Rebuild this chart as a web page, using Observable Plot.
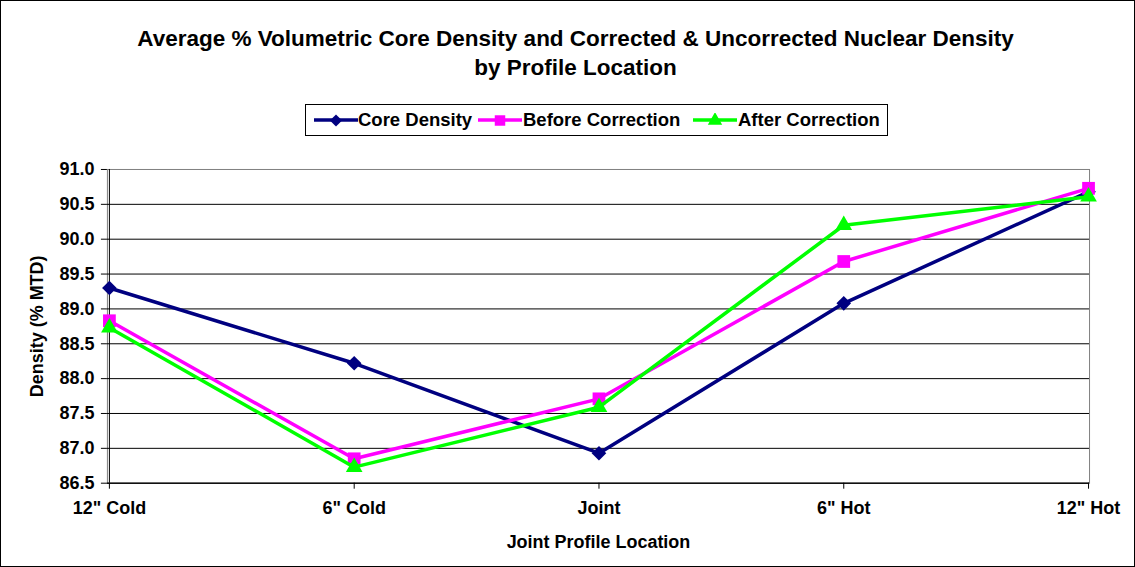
<!DOCTYPE html>
<html>
<head>
<meta charset="utf-8">
<script src="https://cdn.jsdelivr.net/npm/d3@7"></script>
<script src="https://cdn.jsdelivr.net/npm/@observablehq/plot@0.6"></script>
<style>
  html, body { margin: 0; padding: 0; background: white; }
  #chart { position: relative; width: 1135px; height: 567px; box-sizing: border-box; border: 1px solid black; background: white; overflow: hidden;
           font-family: "Liberation Sans", Arial, sans-serif; font-weight: bold; color: black; }
  #title { position: absolute; left: 7px; top: 23px; width: 1135px; text-align: center; font-size: 22.5px; line-height: 29px; white-space: nowrap; }
  #legend { position: absolute; left: 304px; top: 103px; width: 581px; height: 30px; border: 1px solid black; font-size: 18.5px; }
  #legend .sw { position: absolute; top: 8px; }
  #legend .lt { position: absolute; top: 4px; white-space: nowrap; line-height: 22px; }
  #plot { position: absolute; left: -1px; top: 144px; }
</style>
</head>
<body>
<div id="chart">
  <div id="title">Average % Volumetric Core Density and Corrected &amp; Uncorrected Nuclear Density<br>by Profile Location</div>
  <div id="legend"></div>
  <div id="plot"></div>
</div>
<script>
const categories = ['12" Cold', '6" Cold', 'Joint', '6" Hot', '12" Hot'];
const seriesNames = ["Core Density", "Before Correction", "After Correction"];
const coreDensity = [89.30, 88.22, 86.93, 89.08, 90.68];
const beforeCorrection = [88.83, 86.85, 87.71, 89.68, 90.73];
const afterCorrection = [88.73, 86.73, 87.59, 90.20, 90.61];
const yTicks = [86.5, 87.0, 87.5, 88.0, 88.5, 89.0, 89.5, 90.0, 90.5, 91.0];
const colors = ["#000080", "#FF00FF", "#00FF00"];
const symbols = ["diamond2", "square", "triangle"];
const markerR = [6.6, 7.2, 6.2];

const values = [coreDensity, beforeCorrection, afterCorrection];
const seriesData = seriesNames.map((s, i) => categories.map((c, j) => ({series: s, category: c, value: values[i][j]})));

const seriesMarks = [];
seriesData.forEach((d, i) => {
  seriesMarks.push(Plot.line(d, { x: "category", y: "value", stroke: colors[i], strokeWidth: 3.5 }));
  seriesMarks.push(Plot.dot(d, { x: "category", y: "value", fill: colors[i], symbol: symbols[i], r: markerR[i], stroke: "none" }));
});

const W = 1135, H = 423;
const chart = Plot.plot({
  width: W,
  height: H,
  marginLeft: 107,
  marginRight: 45,
  marginTop: 24,
  marginBottom: 85,
  style: { fontFamily: '"Liberation Sans", Arial, sans-serif', fontSize: "18px", fontWeight: "bold", color: "black", background: "transparent", overflow: "visible" },
  x: { type: "point", domain: categories, padding: 0, label: null },
  y: { domain: [86.5, 91.0], label: null },
  marks: [
    Plot.frame({ stroke: "#808080" }),
    Plot.gridY(yTicks.filter(d => d < 91), { stroke: "black", strokeOpacity: 1, strokeWidth: 1 }),
    Plot.ruleY([86.5], { stroke: "black" }),
    Plot.ruleX([categories[0]], { stroke: "black" }),
    Plot.axisY(yTicks, { tickFormat: d => d.toFixed(1), tickSize: 6, tickPadding: 7, fontSize: 18, fontWeight: "bold", label: null }),
    Plot.axisX({ tickSize: 6, tickPadding: 12, fontSize: 18, fontWeight: "bold", label: null }),
    ...seriesMarks,
    Plot.text(["Density (% MTD)"], { frameAnchor: "left", rotate: -90, dx: -70, fontSize: 18, fontWeight: "bold", textAnchor: "middle" }),
    Plot.text(["Joint Profile Location"], { frameAnchor: "bottom", lineAnchor: "middle", dy: 59, fontSize: 18, fontWeight: "bold", textAnchor: "middle" })
  ]
});
document.getElementById("plot").appendChild(chart);

// Legend
const legend = document.getElementById("legend");
const swatchLeft = [8, 172, 387];
const textLeft = [52, 217, 432];
const symMap = { diamond2: d3.symbolDiamond2, square: d3.symbolSquare, triangle: d3.symbolTriangle };
const legendSize = [95, 110, 90];
seriesNames.forEach((s, i) => {
  const svg = d3.create("svg").attr("class", "sw").attr("width", 44).attr("height", 14)
    .style("left", swatchLeft[i] + "px");
  svg.append("line").attr("x1", 0).attr("x2", 44).attr("y1", 7).attr("y2", 7).attr("stroke", colors[i]).attr("stroke-width", 3.5);
  svg.append("path").attr("transform", "translate(22,7.5)").attr("fill", colors[i])
    .attr("d", d3.symbol(symMap[symbols[i]], legendSize[i])());
  legend.appendChild(svg.node());
  const t = document.createElement("div");
  t.className = "lt";
  t.style.left = textLeft[i] + "px";
  t.textContent = s;
  legend.appendChild(t);
});
</script>
</body>
</html>
